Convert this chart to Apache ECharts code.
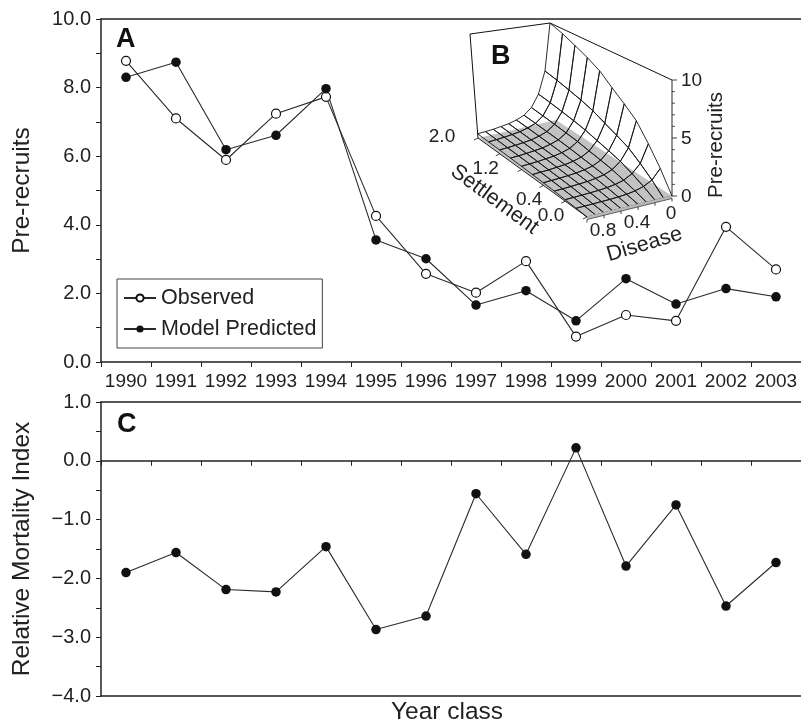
<!DOCTYPE html>
<html><head><meta charset="utf-8">
<script src="https://cdn.jsdelivr.net/npm/echarts@6/dist/echarts.min.js"></script>
<style>html,body{margin:0;padding:0;background:#fff}#c{width:801px;height:726px}</style>
</head><body><div id="c"></div>
<script>
// ---------------- data ----------------
const years = ['1990','1991','1992','1993','1994','1995','1996','1997','1998','1999','2000','2001','2002','2003'];
const observed  = [8.78, 7.10, 5.89, 7.24, 7.73, 4.26, 2.57, 2.02, 2.94, 0.74, 1.37, 1.20, 3.94, 2.70];
const predicted = [8.30, 8.74, 6.19, 6.61, 7.97, 3.56, 3.01, 1.66, 2.08, 1.20, 2.43, 1.69, 2.14, 1.90];
const mortality = [-1.90, -1.56, -2.19, -2.23, -1.46, -2.87, -2.64, -0.56, -1.59, 0.22, -1.79, -0.75, -2.47, -1.73];

// inset B surface: rows = settlement, columns = disease
const diseaseGrid    = [0, 0.1, 0.2, 0.3, 0.4, 0.5, 0.6, 0.7, 0.8, 0.9, 1.0];
const settlementGrid = [0, 0.2, 0.4, 0.6, 0.8, 1.0, 1.2, 1.4, 1.6, 1.8, 2.0];
const preRecruitSurface = [
  [0.00, 0.00, 0.00, 0.00, 0.00, 0.00, 0.00, 0.00, 0.00, 0.00, 0.00],
  [1.75, 0.91, 0.53, 0.32, 0.21, 0.16, 0.12, 0.11, 0.09, 0.08, 0.07],
  [3.30, 1.72, 0.99, 0.59, 0.40, 0.30, 0.23, 0.20, 0.17, 0.15, 0.13],
  [4.75, 2.47, 1.43, 0.86, 0.57, 0.43, 0.33, 0.29, 0.24, 0.21, 0.19],
  [5.70, 2.96, 1.71, 1.03, 0.68, 0.51, 0.40, 0.34, 0.29, 0.26, 0.23],
  [6.60, 3.43, 1.98, 1.19, 0.79, 0.59, 0.46, 0.40, 0.33, 0.30, 0.26],
  [7.60, 3.95, 2.28, 1.37, 0.91, 0.68, 0.53, 0.46, 0.38, 0.34, 0.30],
  [8.30, 4.32, 2.49, 1.49, 1.00, 0.75, 0.58, 0.50, 0.42, 0.37, 0.33],
  [8.90, 4.63, 2.67, 1.60, 1.07, 0.80, 0.62, 0.53, 0.45, 0.40, 0.36],
  [9.50, 4.94, 2.85, 1.71, 1.14, 0.86, 0.67, 0.57, 0.48, 0.43, 0.38],
  [10.0, 5.20, 3.00, 1.80, 1.20, 0.90, 0.70, 0.60, 0.50, 0.45, 0.40]
];
const diseaseTickValues = [0, 0.2, 0.4, 0.6, 0.8, 1.0];
const diseaseTickLabels = [[0, '0'], [0.4, '0.4'], [0.8, '0.8']];
const settlementTickValues = [0, 0.4, 0.8, 1.2, 1.6, 2.0];
const settlementTickLabels = [[0, '0.0'], [0.4, '0.4'], [1.2, '1.2'], [2.0, '2.0']];
const zMajorTicks = [0, 5, 10];
const zMinorTicks = [1, 2, 3, 4, 6, 7, 8, 9];

// ---------------- inset projection (box corners in inset-grid units) ----------------
const BOX = {
  floor: {F: [147, 202], R: [232, 181], L: [38, 123], B: [116, 105]},
  top:   {F: [148, 80],  R: [232, 65],  L: [30, 19],  B: [110, 8]},
  dMax: 1, sMax: 2, zMax: 10
};
function bil(c, a, b) {
  return [0, 1].map(k => (1-a)*(1-b)*c.F[k] + a*(1-b)*c.R[k] + (1-a)*b*c.L[k] + a*b*c.B[k]);
}
function proj(d, s, z) {
  const a = 1 - d / BOX.dMax, b = s / BOX.sMax;
  const f = bil(BOX.floor, a, b), t = bil(BOX.top, a, b), k = z / BOX.zMax;
  return [f[0] + k*(t[0]-f[0]), f[1] + k*(t[1]-f[1])];
}

const FONT = "'Liberation Sans', Arial, Helvetica, sans-serif";
const INK = '#222';

const cells = [];
for (let j = 0; j < settlementGrid.length - 1; j++) {
  for (let i = 0; i < diseaseGrid.length - 1; i++) cells.push([i, j]);
}

function line(api, p1, p2, w, color) {
  const c1 = api.coord(p1), c2 = api.coord(p2);
  return {type: 'line', shape: {x1: c1[0], y1: c1[1], x2: c2[0], y2: c2[1]},
          style: {stroke: color || '#111', lineWidth: w || 1}};
}
function txt(api, p, dx, dy, text, size, opts) {
  const c = api.coord(p);
  opts = opts || {};
  return {type: 'text', x: c[0] + dx, y: c[1] + dy, rotation: opts.rot || 0,
          style: {text: text, fontSize: size, fontFamily: FONT, fill: INK,
                  align: opts.align || 'center', verticalAlign: 'middle'}};
}

const chart = echarts.init(document.getElementById('c'), null, {renderer: 'canvas'});

const axisLineStyle = {color: INK, width: 1.5};
const yLabelFmt = v => (v < 0 ? '\u2212' + (-v).toFixed(1) : v.toFixed(1));

const option = {
  animation: false,
  backgroundColor: '#fff',
  grid: [
    {left: 101, right: 0, top: 19, height: 343},
    {left: 101, right: 0, top: 402, height: 294},
    {left: 440, top: 15, width: 260, height: 230, show: false}
  ],
  legend: {
    data: ['Observed', 'Model Predicted'],
    orient: 'vertical', left: 117, top: 279,
    borderColor: '#444', borderWidth: 1, padding: [8, 6, 8, 6],
    itemWidth: 32, itemHeight: 9, itemGap: 9,
    textStyle: {fontSize: 21.5, color: INK, fontFamily: FONT}
  },
  xAxis: [
    {gridIndex: 0, type: 'category', data: years, position: 'bottom',
     axisLine: {onZero: false, lineStyle: axisLineStyle},
     axisTick: {show: true, length: 5, lineStyle: {color: INK, width: 1}},
     axisLabel: {fontSize: 19, color: INK, fontFamily: FONT, margin: 10, interval: 0},
     splitLine: {show: false}},
    {gridIndex: 0, type: 'category', data: years, position: 'top',
     axisLine: {onZero: false, lineStyle: axisLineStyle},
     axisTick: {show: false}, axisLabel: {show: false}},
    {gridIndex: 1, type: 'category', data: years, position: 'top',
     axisLine: {onZero: true, lineStyle: axisLineStyle},
     axisTick: {show: true, inside: true, length: 5, lineStyle: {color: INK, width: 1}},
     axisLabel: {show: false}},
    {gridIndex: 1, type: 'category', data: years, position: 'bottom',
     axisLine: {onZero: false, lineStyle: axisLineStyle},
     axisTick: {show: false}, axisLabel: {show: false}},
    {gridIndex: 1, type: 'category', data: years, position: 'top',
     axisLine: {onZero: false, lineStyle: axisLineStyle},
     axisTick: {show: false}, axisLabel: {show: false}},
    {gridIndex: 2, type: 'value', min: 0, max: 260, show: false}
  ],
  yAxis: [
    {gridIndex: 0, type: 'value', min: 0, max: 10, interval: 2,
     name: 'Pre-recruits', nameLocation: 'middle', nameGap: 66,
     nameTextStyle: {fontSize: 24.5, color: INK, fontFamily: FONT},
     axisLine: {show: true, lineStyle: axisLineStyle},
     axisTick: {show: true, length: 5, lineStyle: {color: INK, width: 1}},
     minorTick: {show: true, splitNumber: 2, length: 5, lineStyle: {color: INK, width: 1}},
     axisLabel: {fontSize: 20, color: INK, fontFamily: FONT, margin: 10, formatter: yLabelFmt},
     splitLine: {show: false}},
    {gridIndex: 1, type: 'value', min: -4, max: 1, interval: 1,
     name: 'Relative Mortality Index', nameLocation: 'middle', nameGap: 66,
     nameTextStyle: {fontSize: 24.5, color: INK, fontFamily: FONT},
     axisLine: {show: true, lineStyle: axisLineStyle},
     axisTick: {show: true, length: 5, lineStyle: {color: INK, width: 1}},
     minorTick: {show: true, splitNumber: 2, length: 5, lineStyle: {color: INK, width: 1}},
     axisLabel: {fontSize: 20, color: INK, fontFamily: FONT, margin: 10, formatter: yLabelFmt},
     splitLine: {show: false}},
    {gridIndex: 2, type: 'value', min: 0, max: 230, inverse: true, show: false}
  ],
  graphic: [
    {type: 'text', left: 116, top: 26, style: {text: 'A', fontSize: 27, fontWeight: 'bold', fill: '#111', fontFamily: FONT}},
    {type: 'text', left: 117, top: 411, style: {text: 'C', fontSize: 27, fontWeight: 'bold', fill: '#111', fontFamily: FONT}},
    {type: 'text', left: 491, top: 43, style: {text: 'B', fontSize: 27, fontWeight: 'bold', fill: '#111', fontFamily: FONT}},
    {type: 'text', x: 447, y: 712, style: {text: 'Year class', fontSize: 24.5, fill: INK, fontFamily: FONT, align: 'center', verticalAlign: 'middle'}}
  ],
  series: [
    {name: 'Observed', type: 'line', xAxisIndex: 0, yAxisIndex: 0, data: observed,
     symbol: 'circle', symbolSize: 9, z: 5,
     itemStyle: {color: '#fff', borderColor: '#111', borderWidth: 1.2},
     lineStyle: {color: '#2a2a2a', width: 1.1}},
    {name: 'Model Predicted', type: 'line', xAxisIndex: 0, yAxisIndex: 0, data: predicted,
     symbol: 'circle', symbolSize: 9.5, z: 5,
     itemStyle: {color: '#111', borderColor: '#111', borderWidth: 0},
     lineStyle: {color: '#2a2a2a', width: 1.1}},
    {name: 'Mortality', type: 'line', xAxisIndex: 2, yAxisIndex: 1, data: mortality,
     symbol: 'circle', symbolSize: 9.5, z: 5,
     itemStyle: {color: '#111', borderWidth: 0},
     lineStyle: {color: '#2a2a2a', width: 1.1}},
    // inset B: back frame and shaded floor
    {type: 'custom', name: 'frameBack', xAxisIndex: 5, yAxisIndex: 2, z: 2, silent: true,
     data: [[0, 0]],
     renderItem: (params, api) => {
       const d1 = BOX.dMax, s1 = BOX.sMax, z1 = BOX.zMax;
       const floorPts = [proj(d1, 0, 0), proj(0, 0, 0), proj(0, s1, 0), proj(d1, s1, 0)].map(p => api.coord(p));
       return {type: 'group', children: [
         {type: 'polygon', shape: {points: floorPts}, style: {fill: '#c2c2c2', stroke: 'none'}},
         line(api, proj(d1, s1, 0), proj(d1, s1, z1)),
         line(api, proj(d1, s1, z1), proj(0, s1, z1)),
         line(api, proj(0, s1, z1), proj(0, 0, z1))
       ]};
     }},
    // inset B: surface mesh (wireframe)
    {type: 'custom', name: 'surface', xAxisIndex: 5, yAxisIndex: 2, z: 3, silent: true,
     data: cells,
     renderItem: (params, api) => {
       const i = api.value(0), j = api.value(1);
       const cs = [[i, j], [i+1, j], [i+1, j+1], [i, j+1]];
       const pts = cs.map(([ii, jj]) =>
         api.coord(proj(diseaseGrid[ii], settlementGrid[jj], preRecruitSurface[jj][ii])));
       return {type: 'polygon', shape: {points: pts},
               style: {fill: 'none', stroke: '#151515', lineWidth: 0.9}};
     }},
    // inset B: front axes
    {type: 'custom', name: 'frameFront', xAxisIndex: 5, yAxisIndex: 2, z: 4, silent: true,
     data: [[0, 0]],
     renderItem: (params, api) => {
       const ch = [];
       const d1 = BOX.dMax, s1 = BOX.sMax, z1 = BOX.zMax;
       const pF = proj(d1, 0, 0), pR = proj(0, 0, 0);
       ch.push(line(api, [pF[0], pF[1] + 1], [pR[0], pR[1] + 1], 3, '#b8b8b8'));
       ch.push(line(api, [pF[0], pF[1] + 2.5], [pR[0], pR[1] + 2.5], 0.8, '#444'));
       diseaseTickValues.forEach(v => {
         const p = proj(v, 0, 0);
         ch.push(line(api, [p[0], p[1] + 2.5], [p[0], p[1] + 5.5], 0.8));
       });
       diseaseTickLabels.forEach(([v, t]) => {
         const p = proj(v, 0, 0);
         ch.push(txt(api, p, -1, 18, t, 19));
       });
       ch.push(txt(api, proj(0.5, 0, 0), 15, 38, 'Disease', 21.5, {rot: 0.29}));
       // settlement axis (left floor edge)
       ch.push(line(api, proj(d1, 0, 0), proj(d1, s1, 0), 0.9));
       settlementTickValues.forEach(v => {
         const p = proj(d1, v, 0);
         ch.push(line(api, p, [p[0] - 4, p[1] + 2], 0.8));
       });
       settlementTickLabels.forEach(([v, t]) => {
         const p = proj(d1, v, 0);
         ch.push(txt(api, p, -36, -1, t, 19));
       });
       ch.push(txt(api, proj(d1, s1 / 2, 0), -38, 22, 'Settlement', 21.5, {rot: -0.63}));
       // z axis at right corner
       ch.push(line(api, proj(0, 0, 0), proj(0, 0, z1), 0.9));
       zMajorTicks.forEach(v => {
         const p = proj(0, 0, v);
         ch.push(line(api, p, [p[0] + 5, p[1]], 0.8));
         ch.push(txt(api, p, 9, 1, String(v), 19, {align: 'left'}));
       });
       zMinorTicks.forEach(v => {
         const p = proj(0, 0, v);
         ch.push(line(api, p, [p[0] + 3, p[1]], 0.7));
       });
       ch.push(txt(api, proj(0, 0, z1 / 2), 44, 7, 'Pre-recruits', 20.5, {rot: Math.PI / 2}));
       return {type: 'group', children: ch};
     }}
  ]
};
chart.setOption(option);
</script>
</body></html>
